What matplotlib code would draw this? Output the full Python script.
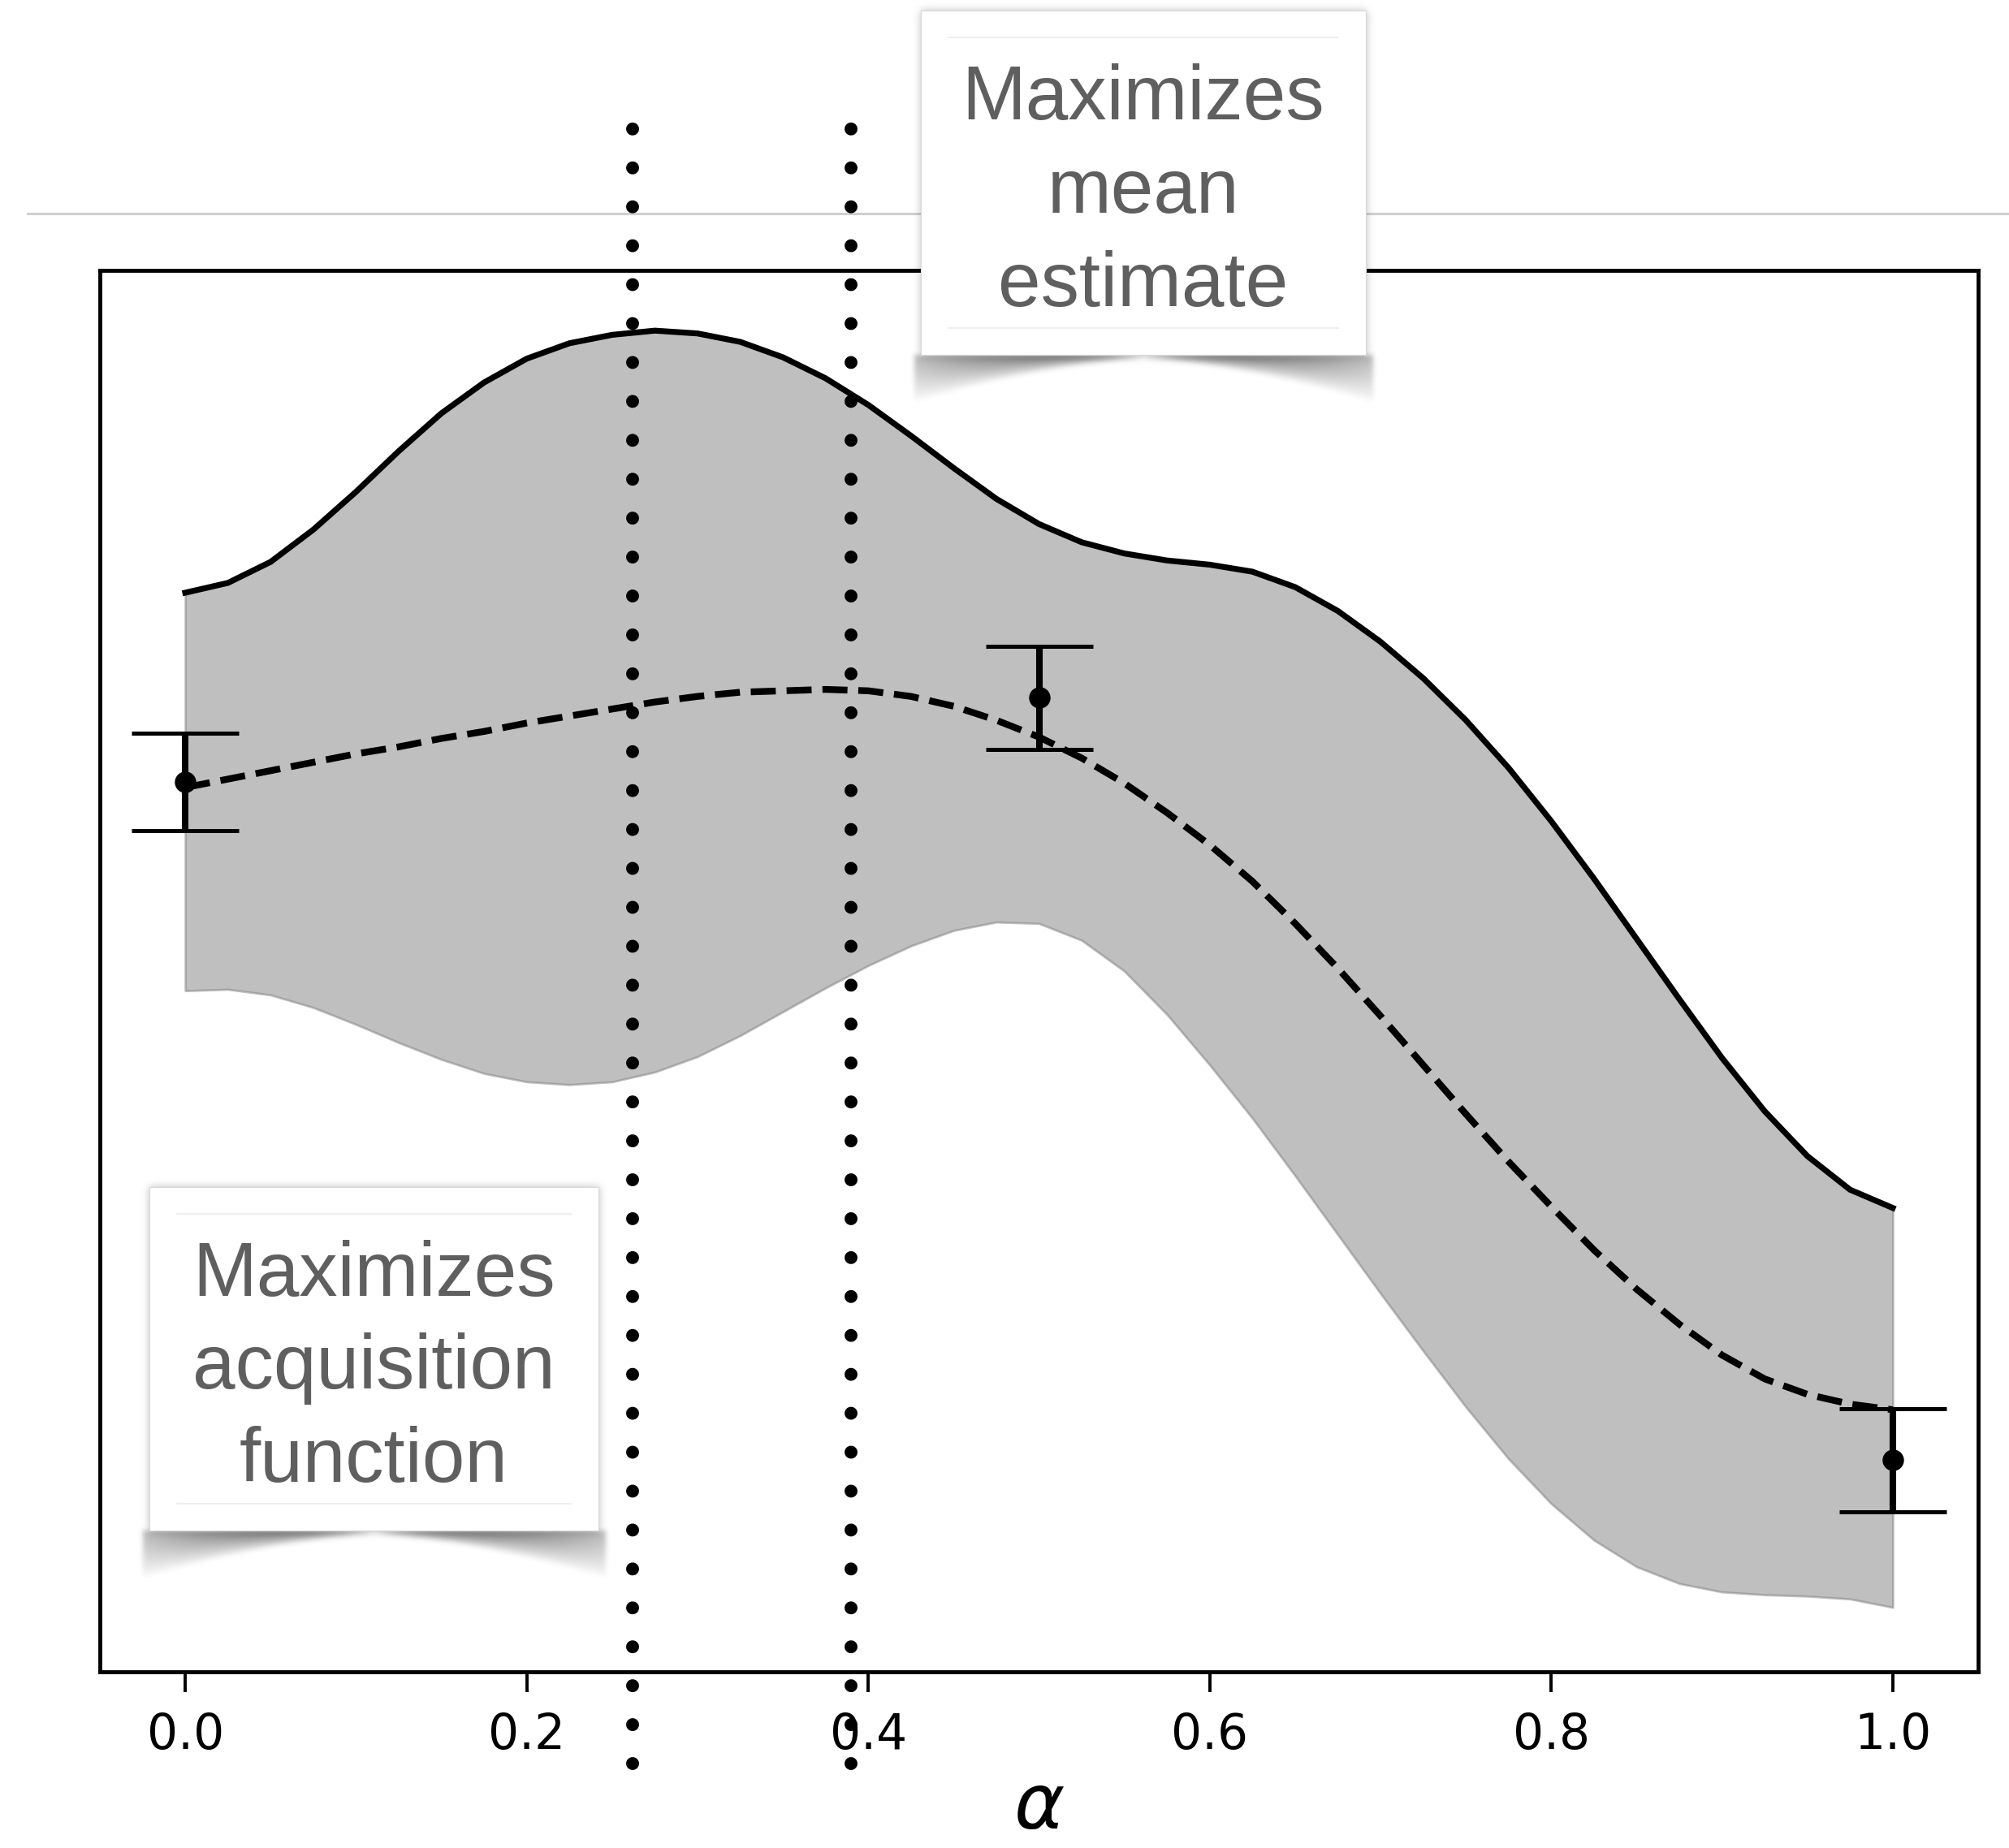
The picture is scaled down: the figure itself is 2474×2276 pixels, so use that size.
import numpy as np
import matplotlib
matplotlib.use("Agg")
import matplotlib.pyplot as plt
from matplotlib.patches import Rectangle
from matplotlib.lines import Line2D

W, H = 2474, 2276
DPI = 100

# Gaussian-process posterior sampled along alpha
alpha_grid = [0.0, 0.025, 0.05, 0.075, 0.1, 0.125, 0.15, 0.175, 0.2, 0.225,
              0.25, 0.275, 0.3, 0.325, 0.35, 0.375, 0.4, 0.425, 0.45, 0.475,
              0.5, 0.525, 0.55, 0.575, 0.6, 0.625, 0.65, 0.675, 0.7, 0.725,
              0.75, 0.775, 0.8, 0.825, 0.85, 0.875, 0.9, 0.925, 0.95, 0.975, 1.0]
upper = [7.70, 7.77, 7.92, 8.15, 8.42, 8.71, 8.98, 9.20, 9.37, 9.48,
         9.54, 9.57, 9.55, 9.49, 9.38, 9.23, 9.04, 8.82, 8.59, 8.37,
         8.19, 8.06, 7.98, 7.93, 7.90, 7.85, 7.74, 7.57, 7.35, 7.09,
         6.79, 6.45, 6.07, 5.66, 5.23, 4.80, 4.38, 4.00, 3.68, 3.44, 3.31]
mean = [6.31, 6.37, 6.43, 6.49, 6.55, 6.60, 6.66, 6.71, 6.77, 6.82,
        6.87, 6.92, 6.96, 6.99, 7.00, 7.01, 7.00, 6.96, 6.89, 6.79,
        6.67, 6.52, 6.34, 6.13, 5.90, 5.64, 5.34, 5.02, 4.68, 4.33,
        3.98, 3.64, 3.32, 3.01, 2.73, 2.48, 2.26, 2.09, 1.98, 1.91, 1.87]
lower = [4.86, 4.87, 4.83, 4.74, 4.62, 4.49, 4.37, 4.27, 4.21, 4.19,
         4.21, 4.28, 4.39, 4.54, 4.71, 4.88, 5.04, 5.18, 5.29, 5.35,
         5.34, 5.22, 5.00, 4.69, 4.33, 3.95, 3.54, 3.12, 2.70, 2.29,
         1.89, 1.52, 1.20, 0.94, 0.75, 0.63, 0.57, 0.55, 0.54, 0.52, 0.46]

# Observed evaluations with noise bars
obs_x = [0.0, 0.5, 1.0]
obs_y = [6.35, 6.95, 1.51]
obs_err = [0.35, 0.37, 0.37]

# Candidate alphas (acquisition maximiser, mean maximiser)
candidates = [0.262, 0.39]

xticks = [0.0, 0.2, 0.4, 0.6, 0.8, 1.0]
xtick_labels = ["0.0", "0.2", "0.4", "0.6", "0.8", "1.0"]

note_mean = ["Maximizes", "mean", "estimate"]
note_acq = ["Maximizes", "acquisition", "function"]


def fx(px):
    return px / W


def fy(py):
    return 1.0 - py / H


fig = plt.figure(figsize=(W / DPI, H / DPI), dpi=DPI)
fig.patch.set_facecolor("white")

ax_left, ax_right, ax_top, ax_bottom = 123, 2436, 333, 2059
ax = fig.add_axes([fx(ax_left), fy(ax_bottom),
                   (ax_right - ax_left) / W, (ax_bottom - ax_top) / H])

ax.fill_between(alpha_grid, lower, upper, color="grey", alpha=0.5,
                linewidth=2, zorder=1)
ax.plot(alpha_grid, upper, color="black", linewidth=5.2, zorder=2,
        solid_joinstyle="round")
ax.plot(alpha_grid, mean, color="black", linestyle="--", linewidth=6,
        zorder=2)
ax.errorbar(obs_x, obs_y, yerr=obs_err, fmt="o", color="black",
            markersize=18, elinewidth=5.8, capsize=47.5, capthick=3.6,
            zorder=4)

ax.set_xlim(-0.05, 1.05)
ax.set_ylim(0, 10)

# dotted markers for the two candidate alphas, running past the frame
for c in candidates:
    ax.plot([c, c], [-0.655, 11.025], color="black", linewidth=11.5,
            linestyle=(0, (0.001, 3.0)), dash_capstyle="round",
            clip_on=False, zorder=3)

ax.set_xticks(xticks)
ax.set_xticklabels(xtick_labels)
ax.set_yticks([])
ax.tick_params(axis="x", length=18, width=2.8, labelsize=43, pad=17)
for sp in ax.spines.values():
    sp.set_linewidth(3.5)

ax.set_xlabel(r"$\alpha$", fontsize=68)
ax.xaxis.label.set_va("baseline")
ax.xaxis.set_label_coords(0.5, (ax_bottom - 2252) / (ax_bottom - ax_top))

# thin rule across the top of the page
fig.add_artist(Line2D([fx(34), 1.0], [fy(263), fy(263)],
                      transform=fig.transFigure, color="#d0d0d0",
                      linewidth=2.2, zorder=-1))


def blur(a, s):
    r = int(3 * s)
    k = np.exp(-(np.arange(-r, r + 1) ** 2) / (2.0 * s * s))
    k /= k.sum()
    a = np.apply_along_axis(lambda m: np.convolve(m, k, mode="same"), 0, a)
    a = np.apply_along_axis(lambda m: np.convolve(m, k, mode="same"), 1, a)
    return a


def note_card(x0, y0, x1, y1, lines, baselines):
    m = 40
    xs = np.arange(x0 - m, x1 + m)
    ys = np.arange(y0 - m, y1 + m + 40)
    X, Y = np.meshgrid(xs, ys)
    inside = ((X >= x0) & (X <= x1) & (Y >= y0) & (Y <= y1)).astype(float)
    halo = blur(inside, 5) * 0.3
    xc = (x0 + x1) / 2.0
    hw = (x1 - x0) / 2.0
    u = np.clip(np.abs(X - xc) / hw, 0, 1.04)
    depth = 6 + 50 * u ** 1.6
    top = np.minimum(0.7, 30 * u / depth) * (1 - 0.35 * u ** 4)
    t = (Y - y1) / depth
    wing = np.where((t >= 0) & (t < 1) & (np.abs(X - xc) <= hw * 1.03),
                    top * np.clip(1 - t, 0, 1) ** 0.8, 0.0)
    wing = blur(wing, 3)
    a = 1 - (1 - halo) * (1 - wing)
    rgba = np.zeros(a.shape + (4,))
    rgba[..., :3] = 0.15
    rgba[..., 3] = np.clip(a, 0, 1)
    fig.figimage(rgba, xo=x0 - m, yo=H - (y1 + m + 40), origin="upper",
                 zorder=19)
    fig.add_artist(Rectangle((fx(x0), fy(y1)), (x1 - x0) / W, (y1 - y0) / H,
                             transform=fig.transFigure, facecolor="white",
                             edgecolor="#d9d9d9", linewidth=0.8, zorder=20))
    for yy in (y0 + 33, y1 - 33):
        fig.add_artist(Line2D([fx(x0 + 34), fx(x1 - 34)], [fy(yy), fy(yy)],
                              transform=fig.transFigure, color="#ebebeb",
                              linewidth=1.2, zorder=21))
    for s, b in zip(lines, baselines):
        fig.text(fx(xc), fy(b), s, ha="center", va="baseline", fontsize=68,
                 family="Liberation Sans", color="#5f5f5f", zorder=22)


note_card(1134, 13, 1682, 437, note_mean, [147, 262, 377])
note_card(184, 1462, 737, 1885, note_acq, [1596, 1710, 1825])

fig.savefig("out.png", dpi=DPI)
